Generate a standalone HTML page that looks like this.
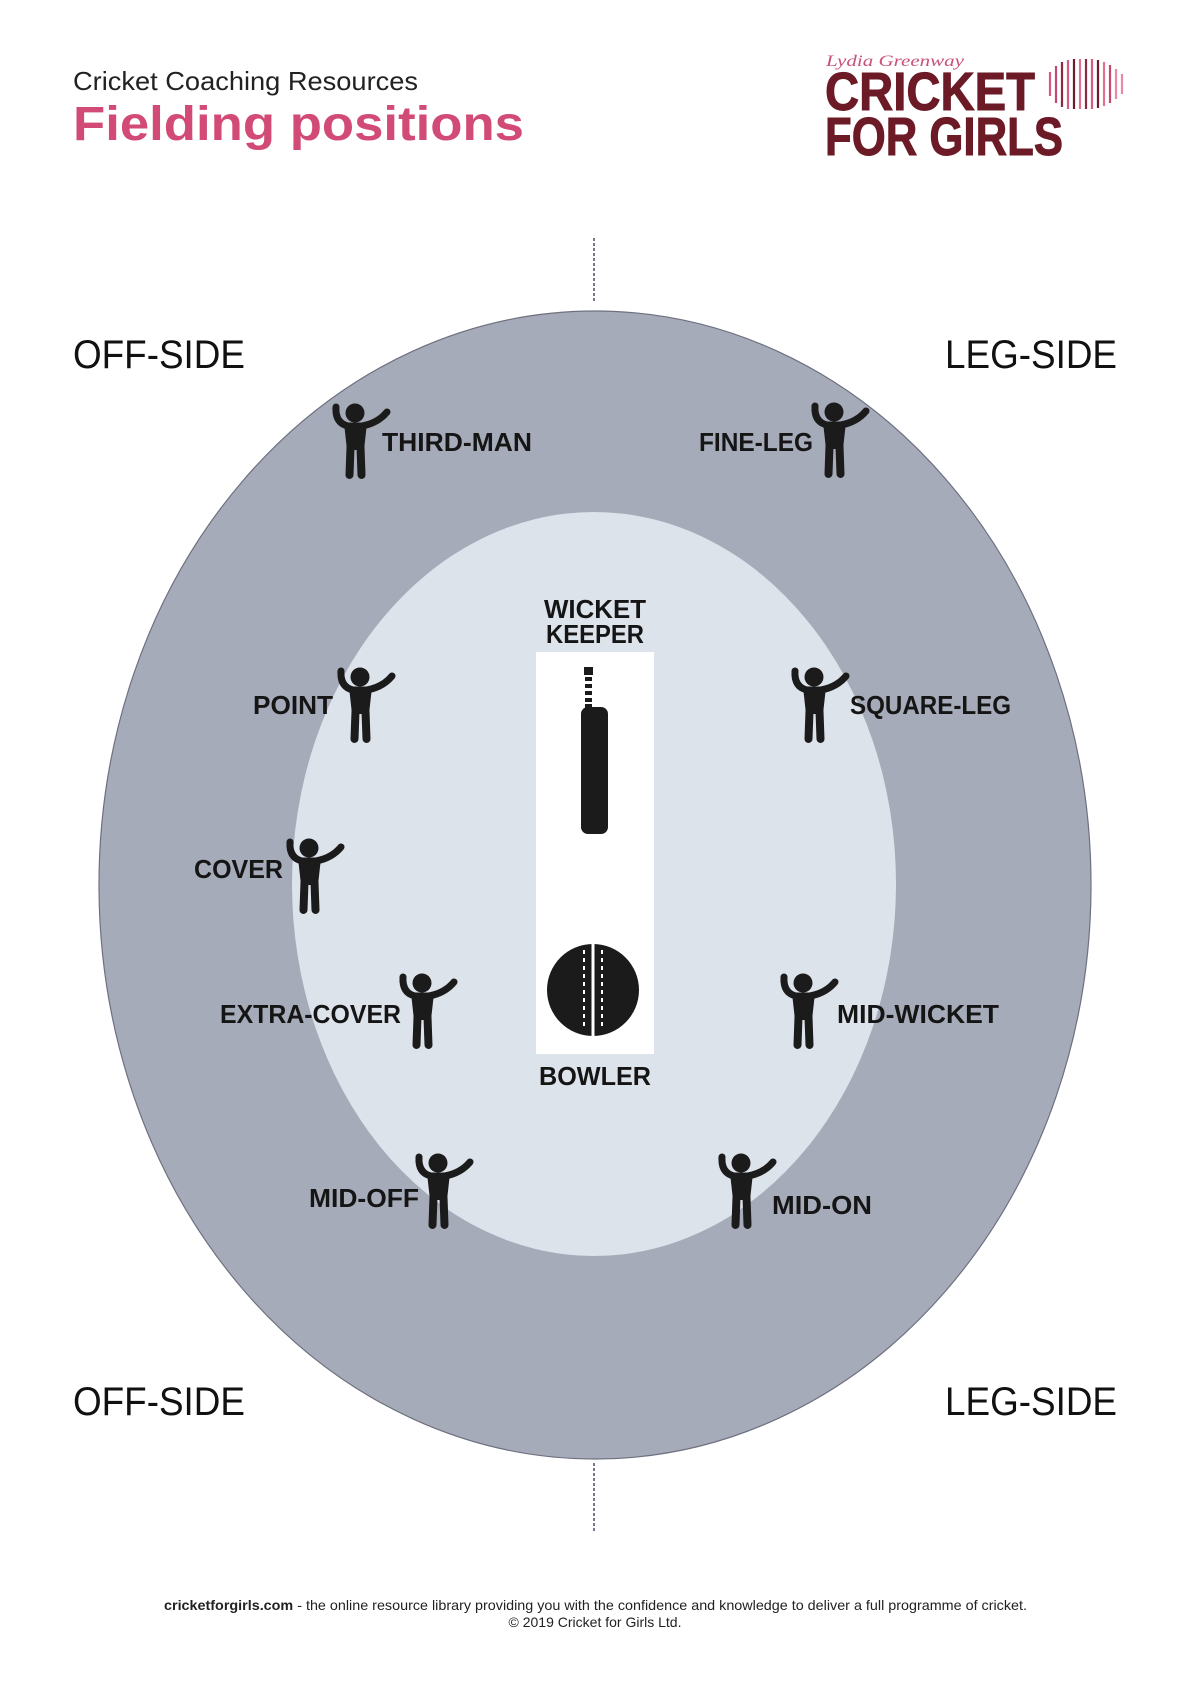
<!DOCTYPE html>
<html><head><meta charset="utf-8"><style>
html,body{margin:0;padding:0;background:#fff;width:1190px;height:1683px;overflow:hidden}
svg{display:block}
</style></head><body>
<svg width="1190" height="1683" viewBox="0 0 1190 1683" xmlns="http://www.w3.org/2000/svg">
<defs>
<g id="fig">
<circle cx="23" cy="10" r="9.5" fill="#1b1b1b"/>
<path d="M4 4 Q3 20 16 23 L30 23 Q46 20 55 9" fill="none" stroke="#1b1b1b" stroke-width="7" stroke-linecap="round" stroke-linejoin="round"/>
<path d="M12 20 L35 20 L32 47 L15 47 Z" fill="#1b1b1b"/>
<path d="M18.5 44 L17.5 72 M28.5 44 L29.5 72" stroke="#1b1b1b" stroke-width="8" stroke-linecap="round"/>
</g>
</defs>
<text x="73" y="90" font-family="Liberation Sans, sans-serif" font-size="26" fill="#222" textLength="345" lengthAdjust="spacingAndGlyphs">Cricket Coaching Resources</text>
<text x="73" y="140" font-family="Liberation Sans, sans-serif" font-weight="bold" font-size="48" fill="#d14b76" textLength="451" lengthAdjust="spacingAndGlyphs">Fielding positions</text>
<text x="826" y="66" font-family="Liberation Serif, serif" font-style="italic" font-size="16" fill="#c9507a" textLength="138" lengthAdjust="spacingAndGlyphs">Lydia Greenway</text>
<text x="825" y="110" font-family="Liberation Sans, sans-serif" font-weight="bold" font-size="54" fill="#6b1a26" stroke="#6b1a26" stroke-width="1" textLength="210" lengthAdjust="spacingAndGlyphs">CRICKET</text>
<text x="825" y="155" font-family="Liberation Sans, sans-serif" font-weight="bold" font-size="54" fill="#6b1a26" stroke="#6b1a26" stroke-width="1" textLength="238" lengthAdjust="spacingAndGlyphs">FOR GIRLS</text>
<g stroke-width="2.2">
<line x1="1050" y1="72" x2="1050" y2="96" stroke="#d75a82"/>
<line x1="1056" y1="66" x2="1056" y2="103" stroke="#c24a72"/>
<line x1="1062" y1="62" x2="1062" y2="107" stroke="#8a2a3e"/>
<line x1="1068" y1="60" x2="1068" y2="109" stroke="#d75a82"/>
<line x1="1074" y1="59" x2="1074" y2="109" stroke="#6b1a26"/>
<line x1="1080" y1="59" x2="1080" y2="109" stroke="#e07090"/>
<line x1="1086" y1="59" x2="1086" y2="109" stroke="#8a2a3e"/>
<line x1="1092" y1="59" x2="1092" y2="109" stroke="#d75a82"/>
<line x1="1098" y1="60" x2="1098" y2="108" stroke="#6b1a26"/>
<line x1="1104" y1="62" x2="1104" y2="106" stroke="#e07090"/>
<line x1="1110" y1="65" x2="1110" y2="103" stroke="#c24a72"/>
<line x1="1116" y1="69" x2="1116" y2="99" stroke="#e88aa6"/>
<line x1="1122" y1="74" x2="1122" y2="94" stroke="#e88aa6"/>
</g>
<line x1="594" y1="238" x2="594" y2="302" stroke="#4a4a6a" stroke-width="1.5" stroke-dasharray="3,2"/>
<line x1="594" y1="1463" x2="594" y2="1531" stroke="#4a4a6a" stroke-width="1.5" stroke-dasharray="3,2"/>
<ellipse cx="595" cy="885" rx="496" ry="574" fill="#a6abb9" stroke="#6e7080" stroke-width="1.2"/>
<ellipse cx="594" cy="884" rx="302" ry="372" fill="#dde3eb"/>
<g font-family="Liberation Sans, sans-serif" font-size="40" fill="#111">
<text x="73" y="368" textLength="172" lengthAdjust="spacingAndGlyphs">OFF-SIDE</text>
<text x="945" y="368" textLength="172" lengthAdjust="spacingAndGlyphs">LEG-SIDE</text>
<text x="73" y="1415" textLength="172" lengthAdjust="spacingAndGlyphs">OFF-SIDE</text>
<text x="945" y="1415" textLength="172" lengthAdjust="spacingAndGlyphs">LEG-SIDE</text>
</g>
<rect x="536" y="652" width="118" height="402" fill="#fff"/>
<rect x="584" y="667" width="9" height="8" fill="#1b1b1b"/>
<g fill="#1b1b1b"><rect x="585" y="677" width="7" height="4"/><rect x="585" y="684" width="7" height="4"/><rect x="585" y="691" width="7" height="4"/><rect x="585" y="698" width="7" height="4"/><rect x="585" y="704" width="7" height="4"/></g>
<rect x="581" y="707" width="27" height="127" rx="7" fill="#1b1b1b"/>
<circle cx="593" cy="990" r="46" fill="#1b1b1b"/>
<line x1="593" y1="943" x2="593" y2="1037" stroke="#fff" stroke-width="3"/>
<line x1="584" y1="950" x2="584" y2="1030" stroke="#fff" stroke-width="2" stroke-dasharray="4,4"/>
<line x1="602" y1="950" x2="602" y2="1030" stroke="#fff" stroke-width="2" stroke-dasharray="4,4"/>
<g font-family="Liberation Sans, sans-serif" font-weight="bold" font-size="26" fill="#151515">
<text x="595" y="618" text-anchor="middle" textLength="102" lengthAdjust="spacingAndGlyphs">WICKET</text>
<text x="595" y="643" text-anchor="middle" textLength="98" lengthAdjust="spacingAndGlyphs">KEEPER</text>
<text x="595" y="1085" text-anchor="middle" textLength="112" lengthAdjust="spacingAndGlyphs">BOWLER</text>
<text x="382" y="451" textLength="150" lengthAdjust="spacingAndGlyphs">THIRD-MAN</text>
<text x="699" y="451" textLength="114" lengthAdjust="spacingAndGlyphs">FINE-LEG</text>
<text x="253" y="714" textLength="80" lengthAdjust="spacingAndGlyphs">POINT</text>
<text x="850" y="714" textLength="161" lengthAdjust="spacingAndGlyphs">SQUARE-LEG</text>
<text x="194" y="878" textLength="89" lengthAdjust="spacingAndGlyphs">COVER</text>
<text x="220" y="1023" textLength="181" lengthAdjust="spacingAndGlyphs">EXTRA-COVER</text>
<text x="837" y="1023" textLength="162" lengthAdjust="spacingAndGlyphs">MID-WICKET</text>
<text x="309" y="1207" textLength="110" lengthAdjust="spacingAndGlyphs">MID-OFF</text>
<text x="772" y="1214" textLength="100" lengthAdjust="spacingAndGlyphs">MID-ON</text>
</g>
<use href="#fig" x="332" y="403"/>
<use href="#fig" x="811" y="402"/>
<use href="#fig" x="337" y="667"/>
<use href="#fig" x="791" y="667"/>
<use href="#fig" x="286" y="838"/>
<use href="#fig" x="399" y="973"/>
<use href="#fig" x="780" y="973"/>
<use href="#fig" x="415" y="1153"/>
<use href="#fig" x="718" y="1153"/>
<text x="164" y="1610" font-family="Liberation Sans, sans-serif" font-size="14" fill="#222" textLength="863" lengthAdjust="spacingAndGlyphs"><tspan font-weight="bold">cricketforgirls.com</tspan> - the online resource library providing you with the confidence and knowledge to deliver a full programme of cricket.</text>
<text x="595" y="1627" text-anchor="middle" font-family="Liberation Sans, sans-serif" font-size="14" fill="#222">© 2019 Cricket for Girls Ltd.</text>
</svg>
</body></html>
